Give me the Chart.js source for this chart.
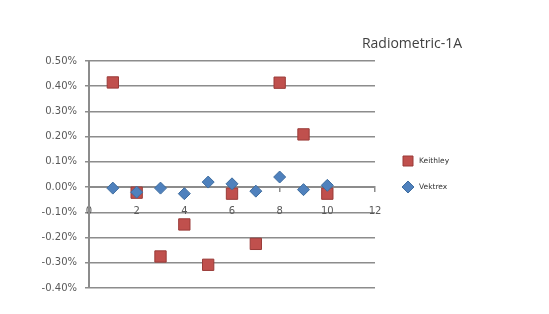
<!DOCTYPE html>
<html>
<head>
<meta charset="utf-8">
<script src="https://cdn.jsdelivr.net/npm/chart.js@4/dist/chart.umd.min.js"></script>
<style>
  body { margin: 0; background: #fff; }
  #wrap { width: 549px; height: 314px; }
</style>
</head>
<body>
<div id="wrap"><canvas id="myChart"></canvas></div>
<script>
// data (values in %)
const xValues = [1, 2, 3, 4, 5, 6, 7, 8, 9, 10];
const keithley = [0.415, -0.022, -0.275, -0.148, -0.308, -0.026, -0.225, 0.414, 0.209, -0.026];
const vektrex = [-0.004, -0.020, -0.004, -0.026, 0.020, 0.013, -0.016, 0.040, -0.010, 0.007];
const seriesNames = ['Keithley', 'Vektrex'];
const titleText = 'Radiometric-1A';

const gridColor = '#8c8c8c';

// title + legend drawn to the right of the plot
const sideLegend = {
    id: 'sideLegend',
    afterDraw(chart) {
        const ctx = chart.ctx;
        const area = chart.chartArea;
        ctx.save();
        ctx.fillStyle = '#404040';
        ctx.font = '14px "Open Sans"';
        ctx.textAlign = 'right';
        ctx.textBaseline = 'middle';
        ctx.fillText(titleText, area.right + 87, area.top - 17);

        const x = area.right + 33;
        chart.data.datasets.forEach((ds, i) => {
            const y = area.top + 100 + i * 26;
            ctx.fillStyle = ds.backgroundColor;
            ctx.strokeStyle = ds.borderColor;
            ctx.lineWidth = 1;
            ctx.beginPath();
            if (ds.pointStyle === 'rect') {
                ctx.rect(x - 5, y - 5, 10, 10);
            } else {
                ctx.moveTo(x, y - 6);
                ctx.lineTo(x + 6, y);
                ctx.lineTo(x, y + 6);
                ctx.lineTo(x - 6, y);
                ctx.closePath();
            }
            ctx.fill();
            ctx.stroke();
            ctx.fillStyle = '#333';
            ctx.font = '7.5px "DejaVu Sans"';
            ctx.textAlign = 'left';
            ctx.fillText(ds.label, x + 11, y);
        });
        ctx.restore();
    }
};

const data = {
    datasets: [
        {
            label: seriesNames[0],
            data: xValues.map((x, i) => ({ x: x, y: keithley[i] })),
            backgroundColor: '#C0504D',
            borderColor: '#9A3B38',
            borderWidth: 1,
            pointStyle: 'rect',
            pointRadius: 8,
            order: 2
        },
        {
            label: seriesNames[1],
            data: xValues.map((x, i) => ({ x: x, y: vektrex[i] })),
            backgroundColor: '#4F81BD',
            borderColor: '#3F6D9F',
            borderWidth: 1,
            pointStyle: 'rectRot',
            pointRadius: 6,
            order: 1
        }
    ]
};

const config = {
    type: 'scatter',
    data: data,
    plugins: [sideLegend],
    options: {
        responsive: true,
        maintainAspectRatio: false,
        animation: false,
        layout: {
            padding: { left: 0, right: 174, top: 61, bottom: 26 }
        },
        scales: {
            x: {
                type: 'linear',
                position: { y: 0 },
                min: 0,
                max: 12,
                ticks: {
                    stepSize: 2,
                    padding: 14,
                    color: '#595959',
                    font: { family: 'DejaVu Sans', size: 10 }
                },
                grid: {
                    drawOnChartArea: false,
                    color: gridColor,
                    lineWidth: 1.5,
                    tickLength: 4
                },
                border: { color: gridColor, width: 2 }
            },
            y: {
                min: -0.4,
                max: 0.5,
                ticks: {
                    stepSize: 0.1,
                    padding: 8,
                    color: '#595959',
                    font: { family: 'DejaVu Sans', size: 10 },
                    callback: v => (Math.abs(v) < 1e-9 ? 0 : v).toFixed(2) + '%'
                },
                grid: {
                    color: gridColor,
                    lineWidth: 1.5,
                    tickLength: 4
                },
                border: { color: gridColor, width: 2 },
                afterFit: scale => { scale.width = 89; }
            }
        },
        plugins: {
            legend: { display: false },
            title: { display: false },
            tooltip: { enabled: false }
        }
    }
};

new Chart(document.getElementById('myChart'), config);
</script>
</body>
</html>
